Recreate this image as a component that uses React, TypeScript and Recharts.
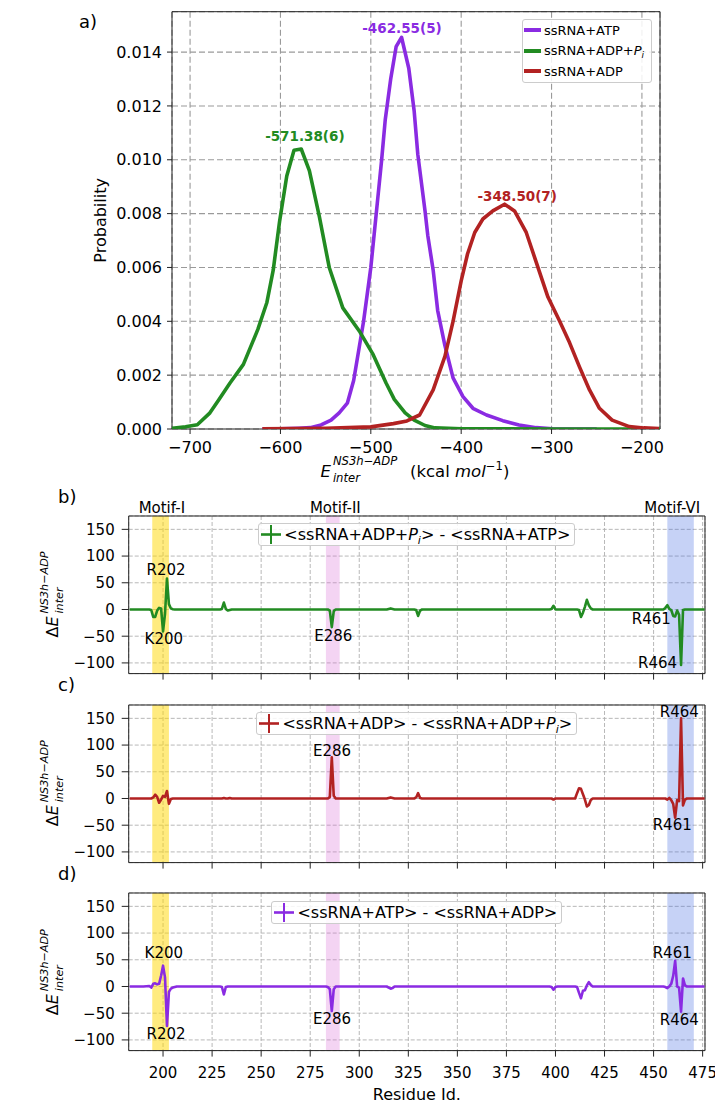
import React from 'react';
import {
  LineChart, Line, XAxis, YAxis, CartesianGrid, ReferenceArea, ReferenceDot, ReferenceLine, Legend,
} from 'recharts';

const FONT = "'DejaVu Sans', sans-serif";

// ---------- Panel a: probability distributions ----------
const atpEnergy = [-620, -600, -580, -567, -555, -544, -535, -526, -519, -513, -508, -500, -494, -488, -484, -478, -472, -466, -458, -452, -448, -440, -437, -431, -426, -418, -409, -398, -387, -372, -354, -336, -317, -299, -280, -250];
const atpProb = [0, 0.00001, 0.00003, 0.00005, 0.00015, 0.00033, 0.0006, 0.00096, 0.0018, 0.003, 0.004, 0.006, 0.008, 0.01, 0.0115, 0.013, 0.0142, 0.01455, 0.0134, 0.0118, 0.0102, 0.0081, 0.0072, 0.0059, 0.0044, 0.0031, 0.0019, 0.0012, 0.00077, 0.00052, 0.00031, 0.00015, 0.00005, 0.00001, 0, 0];

const adpPiEnergy = [-720, -705, -692, -678, -668, -656, -641, -625, -615, -608, -601, -593, -585, -577, -568, -557, -546, -531, -512, -498, -483, -474, -462, -452, -440, -429, -400, -300, -180];
const adpPiProb = [0.00003, 0.00008, 0.00016, 0.0006, 0.0011, 0.0017, 0.0024, 0.0037, 0.0047, 0.0059, 0.0077, 0.0094, 0.01035, 0.0104, 0.0096, 0.0079, 0.006, 0.0045, 0.0036, 0.0028, 0.0017, 0.0011, 0.0006, 0.00033, 0.00013, 0.00004, 0.00001, 0, 0];

const adpEnergy = [-620, -550, -500, -475, -460, -446, -431, -418, -409, -400, -393, -385, -376, -365, -352, -341, -328, -317, -304, -291, -280, -269, -258, -247, -233, -214, -198, -181];
const adpProb = [0.00001, 0.00003, 0.00008, 0.0002, 0.0003, 0.00052, 0.00145, 0.0027, 0.004, 0.0055, 0.0065, 0.0073, 0.0078, 0.0081, 0.00835, 0.0081, 0.0073, 0.0062, 0.0049, 0.004, 0.0032, 0.0023, 0.00145, 0.00077, 0.00033, 0.00009, 0.00004, 0.00002];

const seriesNames = ['ssRNA+ATP', 'ssRNA+ADP+Pi', 'ssRNA+ADP'];
const seriesColors = ['#8A2BE2', '#228B22', '#B22222'];
const peakLabels = ['-462.55(5)', '-571.38(6)', '-348.50(7)'];
const peakLabelX = [-465.5, -573, -338];
const peakLabelY = [0.01488, 0.01086, 0.00866];

const energyTicks = [-700, -600, -500, -400, -300, -200];
const probTicks = [0, 0.002, 0.004, 0.006, 0.008, 0.01, 0.012, 0.014];

// ---------- Panels b-d: per-residue differences ----------
const residues = [183, 190, 193, 194, 195, 196, 197, 198, 199, 200, 201, 202, 203, 204, 205, 206, 207, 215, 229, 230, 231, 232, 233, 234, 235, 240, 283, 284, 285, 286, 287, 288, 300, 314, 315, 316, 317, 318, 328, 329, 330, 331, 332, 397, 398, 399, 400, 401, 409, 410, 411, 412, 413, 414, 415, 416, 417, 418, 419, 420, 450, 455, 456, 457, 458, 459, 460, 461, 462, 463, 464, 465, 466, 467, 468, 476];
const dAdpPiMinusAtp = [0, 0, 0, -1, -14, -14, -2, 3, 2, -41, -8, 58, 10, 2, 0.5, 0, 0, 0, 0, 1, 13, 1, -2, -1, 0, 0, 0, 0, -2, -33, -3, 0, 0, 0, 1, 2, 1, 0, 0, -1, -12, -2, 0, 0, 1, 7, 0, 0, 0, 0, 0, -1, -14, -6, 5, 18, 8, 2, 0, 0, 0, 0, 3, 8, 1, -1, -12, -13, -2, -10, -104, -1, 0, 0, 0, 0];
const dAdpMinusAdpPi = [0, 0, 0, 0, 2, 7, 3, -8, -2, 5, 3, 14, -10, -1, 0, 0, 0, 0, 0, 0, 1, 0, 0, 1, 0, 0, 0, 0, 3, 77, 5, 0, 0, 0, 1, 2, 1, 0, 0, 2, 10, 1, 0, 0, 0, -2, 0, 0, 0, 0, 10, 19, 18, 8, -2, -15, -12, -3, 0, 0, 0, 0, 0, -2, 1, -3, -10, -36, -3, -5, 150, -13, -2, 0, 0, 0];
const dAtpMinusAdp = [0, 0, 1, -2, 5, 6, 4, 5, 20, 39, 17, -74, -10, -4, -2, -1, 0, 0, 0, -1, -15, -1, 0, 0, 0, 0, 0, -1, -5, -46, -5, 0, 0, 0, -2, -4, -3, 0, 0, 0, 0, 0, 0, 0, -1, -6, -1, 0, 0, 0, -1, -12, -22, -8, -7, 2, 8, 3, 0, 0, 0, 0, -1, -3, 0, 5, 20, 48, 0, -2, -47, 15, 2, 0, 0, 0];

const residueTicks = [200, 225, 250, 275, 300, 325, 350, 375, 400, 425, 450, 475];
const dETicks = [-100, -50, 0, 50, 100, 150];

const motifNames = ['Motif-I', 'Motif-II', 'Motif-VI'];
const motifStart = [194.5, 283, 457];
const motifEnd = [203, 290, 470.5];
const motifColors = ['#FFD700', '#DA70D6', '#4169E1'];
const motifOpacity = [0.5, 0.3, 0.3];
const motifLabelX = [199.4, 287.8, 459.5];

const annBText = ['R202', 'K200', 'E286', 'R461', 'R464'];
const annBX = [201.5, 200.4, 286.8, 448.8, 452];
const annBY = [75, -55, -48.75, -17.5, -98.75];
const annCText = ['E286', 'R464', 'R461'];
const annCX = [286.1, 463.1, 459.5];
const annCY = [90, 161.9, -48.75];
const annDText = ['K200', 'R202', 'E286', 'R461', 'R464'];
const annDX = [200.4, 201.5, 286.1, 459.5, 463.1];
const annDY = [62.5, -87.5, -60, 63.75, -61.25];

// ---------- layout ----------
const W = 715;
const A = { left: 172, right: 660, top: 11.7, bottom: 429 };
const P = { left: 128.7, right: 705, height: 157.6 };
const panelTops = [515.7, 704.5, 893.4];
const X_DOMAIN: [number, number] = [182.5, 476.2];
const Y_DOMAIN: [number, number] = [-120, 175];

const fmtMinus = (v: number) => (v < 0 ? '\u2212' + Math.abs(v) : String(v));

const tickStyleA = { fontSize: 16, fill: '#000', fontFamily: FONT };
const tickStyleB = { fontSize: 15, fill: '#000', fontFamily: FONT };

function TopLegend() {
  return (
    <div style={{
      border: '1px solid #cccccc', borderRadius: 3, background: 'rgba(255,255,255,0.85)',
      fontFamily: FONT, fontSize: 13, color: '#000', width: 130, boxSizing: 'border-box', padding: '0 0 0 1px',
    }}>
      {seriesNames.map((n, i) => (
        <div key={n} style={{ display: 'flex', alignItems: 'center', height: 20.5, whiteSpace: 'nowrap' }}>
          <div style={{ width: 17, height: 4, background: seriesColors[i], marginRight: 3 }} />
          {n === 'ssRNA+ADP+Pi' ? (
            <span>ssRNA+ADP+<i>P</i><i style={{ fontSize: 9, position: 'relative', top: 3 }}>i</i></span>
          ) : <span>{n}</span>}
        </div>
      ))}
    </div>
  );
}

function DiffLegend({ color, children }: { color: string; children: React.ReactNode }) {
  return (
    <div style={{ display: 'flex', justifyContent: 'center' }}>
      <div style={{
        display: 'inline-flex', alignItems: 'center', border: '1px solid #cccccc', borderRadius: 3,
        background: 'rgba(255,255,255,0.85)', height: 23, boxSizing: 'border-box', padding: '0 4px 0 1px',
        fontFamily: FONT, fontSize: 16, color: '#000', whiteSpace: 'nowrap',
      }}>
        <svg width={22} height={21} style={{ marginRight: 2 }}>
          <line x1={1} y1={10.5} x2={21} y2={10.5} stroke={color} strokeWidth={2.6} />
          <line x1={11} y1={1} x2={11} y2={20} stroke={color} strokeWidth={2} />
        </svg>
        <span>{children}</span>
      </div>
    </div>
  );
}

function DiffPanel(props: {
  idx: number; values: number[]; color: string; legend: React.ReactNode;
  annText: string[]; annX: number[]; annY: number[]; motifLabels: boolean; xLabels: boolean;
}) {
  const { idx, values, color, legend, annText, annX, annY, motifLabels, xLabels } = props;
  const top = panelTops[idx] - 30;
  const xAxisH = xLabels ? 40 : 10;
  const height = xLabels ? 1103 - top : 30 + P.height + xAxisH + 2;
  const bottom = height - 30 - P.height - xAxisH;
  const rows = residues.map((r, i) => ({ r, v: values[i] }));
  return (
    <div style={{ position: 'absolute', left: 0, top }}>
      <LineChart width={W} height={height} data={rows}
        margin={{ top: 30, right: W - P.right, bottom, left: P.left - 50 }}>
        <CartesianGrid stroke="#b0b0b0" strokeDasharray="4 2" strokeWidth={0.9} />
        {motifNames.map((m, i) => (
          <ReferenceArea key={m} x1={motifStart[i]} x2={motifEnd[i]} fill={motifColors[i]} fillOpacity={motifOpacity[i]} stroke="none" ifOverflow="visible" />
        ))}
        <ReferenceArea x1={X_DOMAIN[0]} x2={X_DOMAIN[1]} y1={Y_DOMAIN[0]} y2={Y_DOMAIN[1]} fill="none" stroke="#222" strokeWidth={1} ifOverflow="visible" />
        <XAxis type="number" dataKey="r" domain={X_DOMAIN} ticks={residueTicks} allowDataOverflow
          axisLine={false} tickLine={{ stroke: '#222' }} tickSize={6} tickMargin={10.6} height={xAxisH}
          tick={tickStyleB} tickFormatter={xLabels ? (v: number) => String(v) : () => ''}
          interval={0} />
        <YAxis type="number" domain={Y_DOMAIN} ticks={dETicks} allowDataOverflow width={50}
          axisLine={false} tickLine={{ stroke: '#222' }} tickSize={7} tickMargin={7}
          tick={tickStyleB} tickFormatter={fmtMinus} interval={0} />
        {motifLabels && motifNames.map((m, i) => (
          <ReferenceLine key={'l' + m} x={motifLabelX[i]} stroke="none"
            label={{ value: m, position: 'top', offset: 3, fontSize: 15, fill: '#000', fontFamily: FONT }} />
        ))}
        <Line type="linear" dataKey="v" stroke={color} strokeWidth={2.6} dot={false} isAnimationActive={false} strokeLinejoin="round" />
        {annText.map((t, i) => (
          <ReferenceDot key={t + i} x={annX[i]} y={annY[i]} r={0} fill="none" stroke="none" ifOverflow="visible"
            label={{ value: t, position: 'center', fontSize: 15, fill: '#000', fontFamily: FONT }} />
        ))}
        <Legend layout="horizontal" verticalAlign="middle" align="center"
          wrapperStyle={{ left: P.left, top: 30 + 7.6, width: P.right - P.left, height: 23 }}
          content={() => <DiffLegend color={color}>{legend}</DiffLegend>} />
      </LineChart>
    </div>
  );
}

function DeltaLabel({ cx, cy }: { cx: number; cy: number }) {
  return (
    <g transform={`translate(${cx},${cy}) rotate(-90)`} fontFamily={FONT} fill="#000">
      <text x={-43} y={0} fontSize={16}>Δ<tspan fontStyle="italic">E</tspan></text>
      <text x={-19} y={4.5} fontSize={11.2} fontStyle="italic">inter</text>
      <text x={-19} y={-10} fontSize={11.2} fontStyle="italic">NS3h−ADP</text>
    </g>
  );
}

export default function App() {
  const atpData = atpEnergy.map((e, i) => ({ e, p: atpProb[i] }));
  const adpPiData = adpPiEnergy.map((e, i) => ({ e, p: adpPiProb[i] }));
  const adpData = adpEnergy.map((e, i) => ({ e, p: adpProb[i] }));
  const seriesData = [atpData, adpPiData, adpData];
  const aHeight = 490;
  const cxA = (A.left + A.right) / 2;
  const cxP = (P.left + P.right) / 2;

  return (
    <div style={{ position: 'absolute', left: 0, top: 0, width: W, height: 1103, background: '#fff', fontFamily: FONT, overflow: 'hidden' }}>
      <div style={{ position: 'absolute', left: 0, top: 0 }}>
        <LineChart width={W} height={aHeight}
          margin={{ top: A.top, right: W - A.right, bottom: aHeight - A.bottom - 40, left: A.left - 60 }}>
          <CartesianGrid stroke="#9a9a9a" strokeDasharray="6 3" strokeWidth={1.1} />
          <ReferenceArea x1={-720} x2={-180} y1={0} y2={0.0155} fill="none" stroke="#222" strokeWidth={1} ifOverflow="visible" />
          <XAxis type="number" dataKey="e" domain={[-720, -180]} ticks={energyTicks} allowDataOverflow height={40}
            axisLine={false} tickLine={{ stroke: '#222' }} tickSize={5} tickMargin={8}
            tick={tickStyleA} tickFormatter={fmtMinus} interval={0} />
          <YAxis type="number" domain={[0, 0.0155]} ticks={probTicks} allowDataOverflow width={60}
            axisLine={false} tickLine={{ stroke: '#222' }} tickSize={5} tickMargin={5}
            tick={tickStyleA} tickFormatter={(v: number) => v.toFixed(3)} interval={0} />
          {seriesData.map((d, i) => (
            <Line key={seriesNames[i]} data={d} type="linear" dataKey="p" stroke={seriesColors[i]} strokeWidth={3.6}
              dot={false} isAnimationActive={false} strokeLinejoin="round" name={seriesNames[i]} />
          ))}
          {peakLabels.map((t, i) => (
            <ReferenceDot key={t} x={peakLabelX[i]} y={peakLabelY[i]} r={0} fill="none" stroke="none" ifOverflow="visible"
              label={{ value: t, position: 'center', fontSize: 13.5, fontWeight: 'bold', fill: seriesColors[i], fontFamily: FONT }} />
          ))}
          <Legend layout="horizontal" verticalAlign="middle" align="center"
            wrapperStyle={{ left: 522, top: 19, width: 130, height: 62 }}
            content={() => <TopLegend />} />
        </LineChart>
      </div>

      <DiffPanel idx={0} values={dAdpPiMinusAtp} color="#228B22"
        legend={<>&lt;ssRNA+ADP+<i>P</i><i style={{ fontSize: 11, position: 'relative', top: 4 }}>i</i>&gt; - &lt;ssRNA+ATP&gt;</>}
        annText={annBText} annX={annBX} annY={annBY} motifLabels xLabels={false} />
      <DiffPanel idx={1} values={dAdpMinusAdpPi} color="#B22222"
        legend={<>&lt;ssRNA+ADP&gt; - &lt;ssRNA+ADP+<i>P</i><i style={{ fontSize: 11, position: 'relative', top: 4 }}>i</i>&gt;</>}
        annText={annCText} annX={annCX} annY={annCY} motifLabels={false} xLabels={false} />
      <DiffPanel idx={2} values={dAtpMinusAdp} color="#8A2BE2"
        legend={<>&lt;ssRNA+ATP&gt; - &lt;ssRNA+ADP&gt;</>}
        annText={annDText} annX={annDX} annY={annDY} motifLabels={false} xLabels />

      <svg width={W} height={1103} style={{ position: 'absolute', left: 0, top: 0, pointerEvents: 'none' }} fontFamily={FONT}>
        <text x={79} y={28} fontSize={18} fill="#000">a)</text>
        <text x={58} y={panelTops[0] - 13.2} fontSize={18} fill="#000">b)</text>
        <text x={58} y={panelTops[1] - 13.2} fontSize={18} fill="#000">c)</text>
        <text x={58} y={panelTops[2] - 13.2} fontSize={18} fill="#000">d)</text>

        <text x={101} y={(A.top + A.bottom) / 2} fontSize={16} fill="#000" textAnchor="middle" dominantBaseline="central"
          transform={`rotate(-90, 101, ${(A.top + A.bottom) / 2})`}>Probability</text>

        <g fill="#000">
          <text x={cxA - 95.6} y={476.5} fontSize={16.5} fontStyle="italic">E</text>
          <text x={cxA - 83.1} y={481.5} fontSize={11.6} fontStyle="italic">inter</text>
          <text x={cxA - 83.1} y={464.5} fontSize={11.6} fontStyle="italic">NS3h−ADP</text>
          <text x={cxA - 6} y={476.5} fontSize={16.5}>(kcal <tspan fontStyle="italic">mol</tspan><tspan dy={-7} fontSize={11.6}>−1</tspan><tspan dy={7}>)</tspan></text>
        </g>

        {panelTops.map((t) => (
          <DeltaLabel key={t} cx={58} cy={t + P.height / 2} />
        ))}

        <text x={cxP} y={1100} fontSize={16} fill="#000" textAnchor="middle">Residue Id.</text>
      </svg>
    </div>
  );
}
